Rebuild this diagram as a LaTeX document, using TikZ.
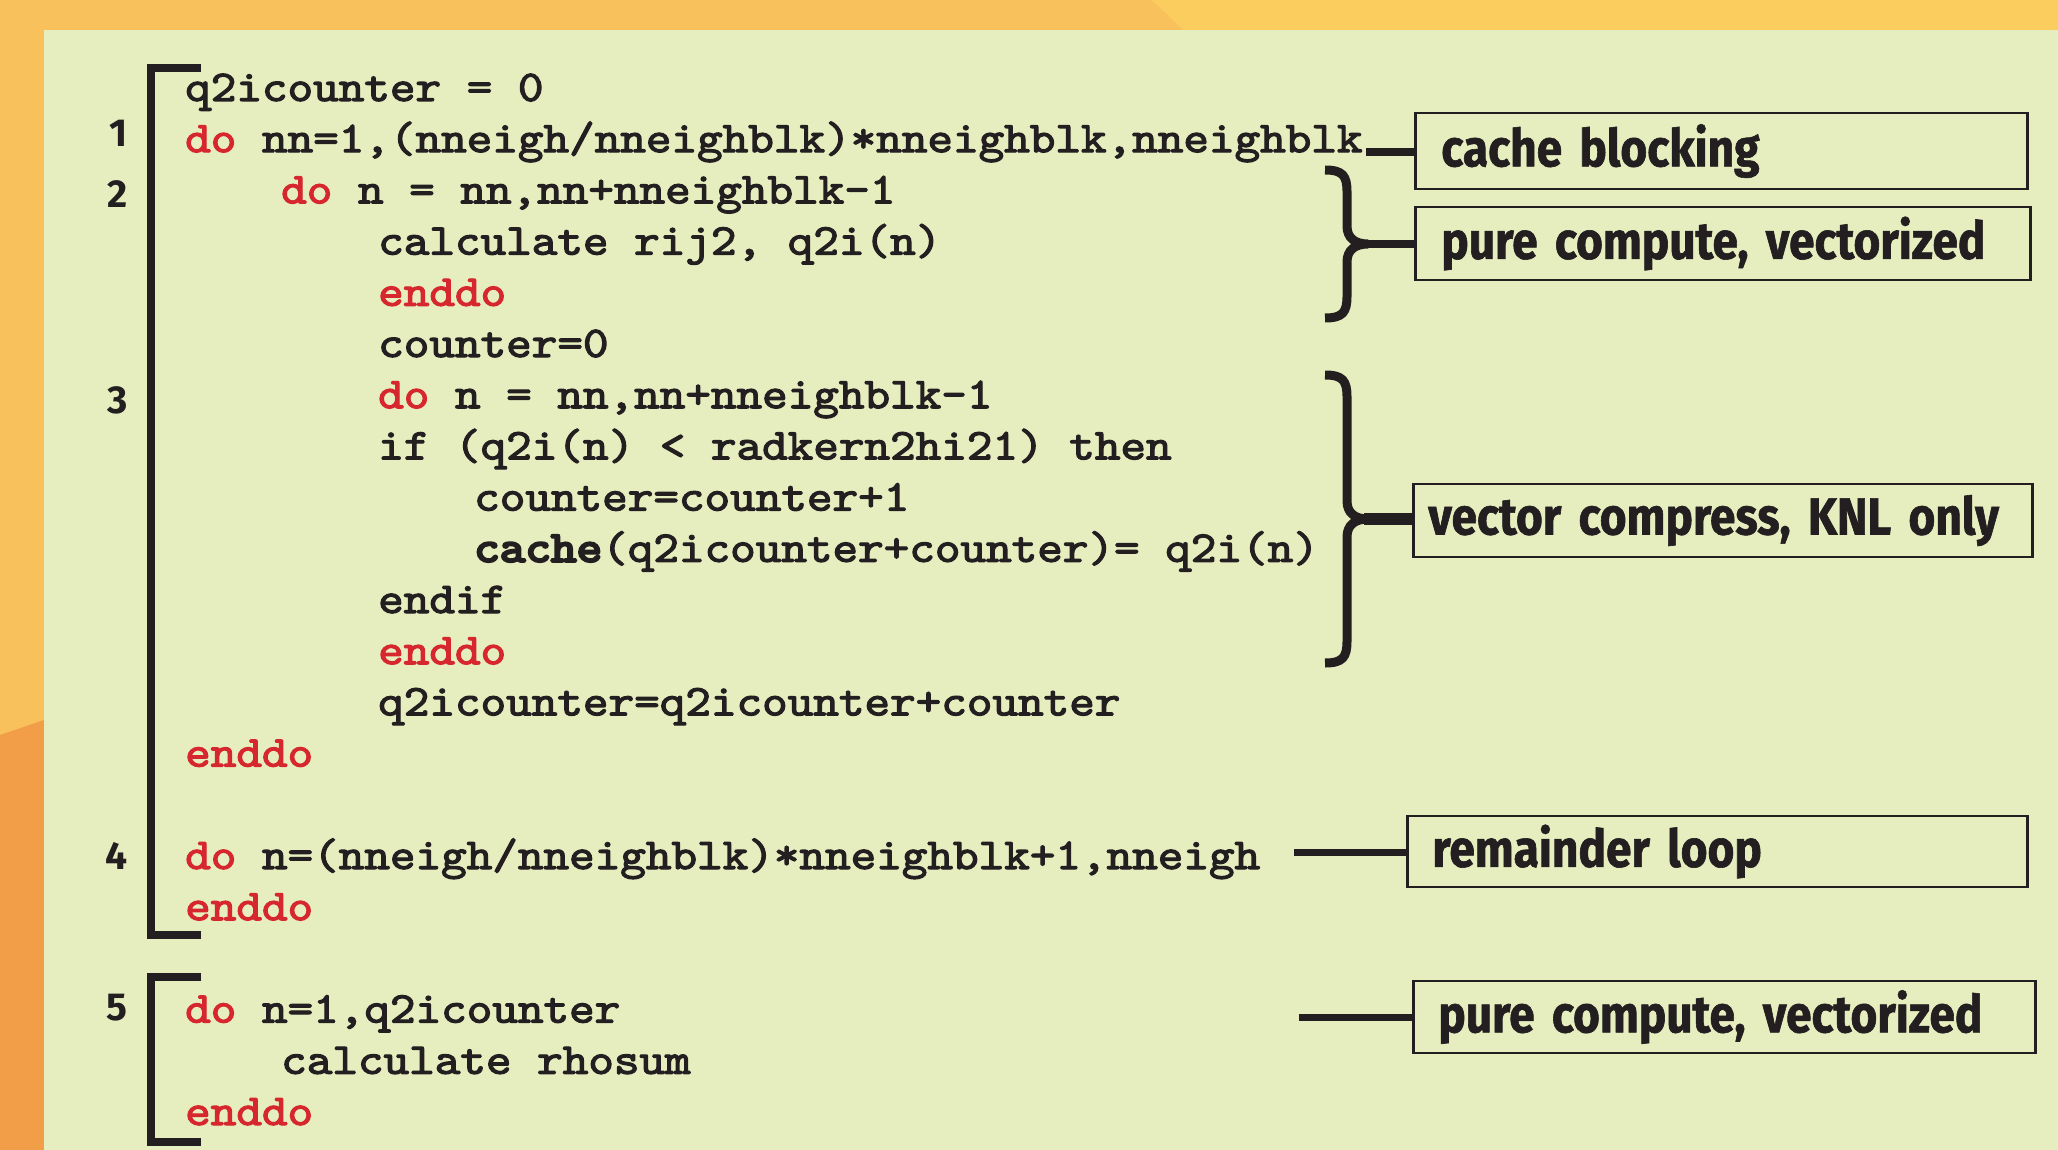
\documentclass[tikz,border=0pt]{standalone}
\usepackage{fontspec}
\newfontfamily\labfont[FakeStretch=0.885,BoldFeatures={FakeBold=1.2}]{Fira Sans}
\newfontfamily\numfont{Fira Sans}
\newfontfamily\codefont[FakeBold=2.5]{lmmono10-regular.otf}
\newfontfamily\codeheavy[FakeBold=5]{lmmono10-regular.otf}
\definecolor{orA}{HTML}{F8C15C}
\definecolor{orY}{HTML}{FBCD5E}
\definecolor{orB}{HTML}{F29D48}
\definecolor{panel}{HTML}{E6EEC0}
\definecolor{kw}{HTML}{D6262E}
\definecolor{ink}{HTML}{231F20}
\newcommand{\kwd}[1]{\textcolor{kw}{#1}}
\newcommand{\heavy}[1]{{\codeheavy #1}}
\newcommand{\cl}[1]{\scalebox{1.108}[1]{#1}}
\tikzset{
  code/.style={anchor=base west, inner sep=0pt, text=ink,
    font=\codefont\fontsize{44}{51}\selectfont},
  num/.style={anchor=base east, inner sep=0pt, text=ink,
    font=\numfont\bfseries\fontsize{39}{42}\selectfont},
  lbox/.style={draw=ink, line width=2.6pt, anchor=west, rectangle, text=ink,
    align=left, inner ysep=0pt,
    font=\labfont\bfseries\fontsize{52}{56}\selectfont},
  bracket/.style={draw=ink, line width=8pt, line join=miter},
  brace/.style={draw=ink, line width=9pt},
  conn/.style={draw=ink, line width=8pt}
}
\begin{document}
\begin{tikzpicture}[x=1pt,y=-1pt]
\useasboundingbox (0,0) rectangle (2058,1150);
% background
\fill[orA] (0,0) rectangle (2058,1150);
\fill[orY] (1152,0) -- (2058,0) -- (2058,30) -- (1183,30) -- cycle;
\fill[orB] (0,735) -- (44,720) -- (44,1150) -- (0,1150) -- cycle;
\fill[panel] (44,30) rectangle (2058,1150);
% brackets
\draw[bracket] (201,68) -- (151,68) -- (151,935) -- (201,935);
\draw[bracket] (201,977) -- (151,977) -- (151,1142) -- (201,1142);
% line numbers
\node[num] (n1) at (128,147) {1};
\node[num] (n2) at (128,208) {2};
\node[num] (n3) at (128,413) {3};
\node[num] (n4) at (128,869) {4};
\node[num] (n5) at (128,1020) {5};
% code lines (baseline = 101 + 51.2 k)
\node[code] (k0)  at (185,101.0)  {\cl{q2icounter = 0}};
\node[code] (k1)  at (185,152.2)  {\cl{\kwd{do} nn=1,(nneigh/nneighblk)*nneighblk,nneighblk}};
\node[code] (k2)  at (281,203.4)  {\cl{\kwd{do} n = nn,nn+nneighblk-1}};
\node[code] (k3)  at (378,254.6)  {\cl{calculate rij2, q2i(n)}};
\node[code] (k4)  at (378,305.8)  {\cl{\kwd{enddo}}};
\node[code] (k5)  at (378,357.0)  {\cl{counter=0}};
\node[code] (k6)  at (378,408.2)  {\cl{\kwd{do} n = nn,nn+nneighblk-1}};
\node[code] (k7)  at (378,459.4)  {\cl{if (q2i(n) < radkern2hi21) then}};
\node[code] (k8)  at (474,510.6)  {\cl{counter=counter+1}};
\node[code] (k9)  at (474,561.8)  {\cl{\heavy{cache}(q2icounter+counter)= q2i(n)}};
\node[code] (k10) at (378,613.0)  {\cl{endif}};
\node[code] (k11) at (378,664.2)  {\cl{\kwd{enddo}}};
\node[code] (k12) at (378,715.4)  {\cl{q2icounter=q2icounter+counter}};
\node[code] (k13) at (185,766.6)  {\cl{\kwd{enddo}}};
\node[code] (k15) at (185,869.0)  {\cl{\kwd{do} n=(nneigh/nneighblk)*nneighblk+1,nneigh}};
\node[code] (k16) at (185,920.2)  {\cl{\kwd{enddo}}};
\node[code] (k18) at (185,1022.6) {\cl{\kwd{do} n=1,q2icounter}};
\node[code] (k19) at (281,1073.8) {\cl{calculate rhosum}};
\node[code] (k20) at (185,1125.0) {\cl{\kwd{enddo}}};
% label boxes
\node[lbox, minimum height=76pt, inner xsep=26pt, text width=560pt] (b1) at (1414,151) {cache blocking};
\node[lbox, minimum height=73pt, inner xsep=26pt, text width=563pt] (b2) at (1414,243.5) {pure compute, vectorized};
\node[lbox, minimum height=73pt, inner xsep=15pt, text width=589pt] (b3) at (1412,520.5) {vector compress, KNL only};
\node[lbox, minimum height=71pt, inner xsep=25pt, text width=570pt] (b4) at (1406,851.5) {remainder loop};
\node[lbox, minimum height=72pt, inner xsep=25pt, text width=572pt] (b5) at (1412,1017) {pure compute, vectorized};
% braces
\draw[brace] (1325,170) .. controls (1343,170) and (1347,176) .. (1347,192) -- (1347,226)
  .. controls (1347,238) and (1355,244) .. (1368,244)
  .. controls (1355,244) and (1347,250) .. (1347,262) -- (1347,296)
  .. controls (1347,312) and (1343,318) .. (1325,318);
\draw[brace] (1325,375) .. controls (1343,375) and (1347,381) .. (1347,397) -- (1347,501)
  .. controls (1347,513) and (1355,519) .. (1368,519)
  .. controls (1355,519) and (1347,525) .. (1347,537) -- (1347,641)
  .. controls (1347,657) and (1343,663) .. (1325,663);
% connectors
\coordinate (c1) at (1366,152);
\coordinate (t1) at (1364,244);
\coordinate (t2) at (1364,519);
\coordinate (c4) at (1294,852);
\coordinate (c5) at (1299,1017);
\draw[conn] (c1) -- (c1 -| b1.west);
\draw[conn] (t1) -- (t1 -| b2.west);
\draw[conn, line width=12pt] (t2) -- (t2 -| b3.west);
\draw[conn, line width=7pt] (c4) -- (c4 -| b4.west);
\draw[conn, line width=7pt] (c5) -- (c5 -| b5.west);
\end{tikzpicture}
\end{document}
